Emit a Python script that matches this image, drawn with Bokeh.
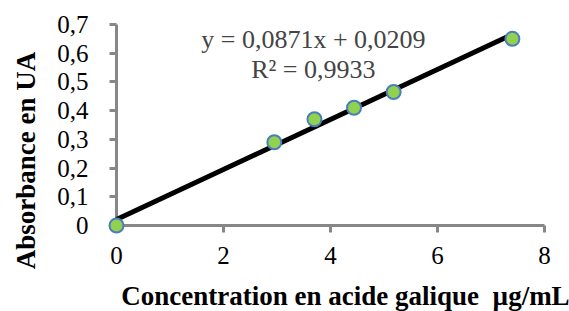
from bokeh.plotting import figure
from bokeh.models import Range1d, FixedTicker, Label, ColumnDataSource
from bokeh.core.properties import value
from bokeh.embed import file_html
from bokeh.resources import INLINE
import math

# Data
concentration = [0, 2.95, 3.7, 4.44, 5.18, 7.4]
absorbance = [0, 0.29, 0.37, 0.41, 0.465, 0.65]
slope = 0.0871
intercept = 0.0209
equation_text = "y = 0,0871x + 0,0209"
r2_text = "R² = 0,9933"
x_ticks = [0, 2, 4, 6, 8]
x_tick_labels = ["0", "2", "4", "6", "8"]
y_ticks = [0, 0.1, 0.2, 0.3, 0.4, 0.5, 0.6, 0.7]
y_tick_labels = ["0", "0,1", "0,2", "0,3", "0,4", "0,5", "0,6", "0,7"]
x_title = "Concentration en acide galique\u00a0 µg/mL"
y_title = "Absorbance en UA"

SERIF = "Liberation Serif"
AXIS_GREY = "#878787"

p = figure(width=569, height=311, output_backend="svg", toolbar_location=None,
           x_range=Range1d(0, 8), y_range=Range1d(0, 0.7),
           min_border_left=116, min_border_right=25, min_border_top=24, min_border_bottom=86)
p.outline_line_color = None
p.xgrid.visible = False
p.ygrid.visible = False
p.background_fill_color = "white"
p.border_fill_color = "white"

for ax, ticks, labels in ((p.xaxis[0], x_ticks, x_tick_labels), (p.yaxis[0], y_ticks, y_tick_labels)):
    ax.ticker = FixedTicker(ticks=ticks)
    ax.major_label_overrides = {t: l for t, l in zip(ticks, labels)}
    ax.axis_line_color = AXIS_GREY
    ax.axis_line_width = 3
    ax.major_tick_line_color = AXIS_GREY
    ax.major_tick_line_width = 3
    ax.major_tick_in = 0
    ax.major_tick_out = 7
    ax.minor_tick_line_color = None
    ax.major_label_text_font = SERIF
    ax.major_label_text_font_size = "25px"
    ax.major_label_text_color = "black"

p.xaxis[0].major_label_standoff = 14
p.yaxis[0].major_label_standoff = 21

# Trend line
x_fit = [min(concentration), max(concentration)]
y_fit = [intercept + slope * x for x in x_fit]
p.line(x_fit, y_fit, line_color="black", line_width=5, level="overlay")

# Points
src = ColumnDataSource(dict(x=concentration, y=absorbance))
p.scatter("x", "y", source=src, size=14, fill_color="#92D050", line_color="#4A7EBB",
          line_width=2, level="overlay")

# Equation
p.add_layout(Label(x=3.68, y=0.648, text=equation_text, text_font=SERIF,
                   text_font_size="26px", text_align="center", text_baseline="alphabetic"))
p.add_layout(Label(x=3.68, y=0.545, text=r2_text, text_font=SERIF,
                   text_font_size="26px", text_align="center", text_baseline="alphabetic"))

# Axis titles (drawn as overlay text so they are not clipped to the frame)
p.text(x=[4.28], y=[-0.247], text=[x_title], text_font=value(SERIF), text_font_style="bold",
       text_font_size="27px", text_align="center", text_baseline="alphabetic",
       text_color="black", level="overlay")
p.text(x=[-1.69], y=[0.226], text=[y_title], text_font=value(SERIF), text_font_style="bold",
       text_font_size="27px", text_align="center", text_baseline="alphabetic",
       text_color="black", angle=math.pi / 2, level="overlay")

open("out.html", "w").write(file_html(p, INLINE))
